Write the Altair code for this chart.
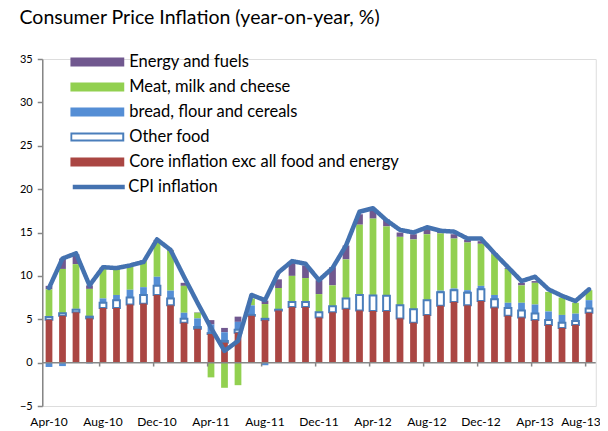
import altair as alt
import pandas as pd

months = ["Apr-10", "May-10", "Jun-10", "Jul-10", "Aug-10", "Sep-10", "Oct-10", "Nov-10",
          "Dec-10", "Jan-11", "Feb-11", "Mar-11", "Apr-11", "May-11", "Jun-11", "Jul-11",
          "Aug-11", "Sep-11", "Oct-11", "Nov-11", "Dec-11", "Jan-12", "Feb-12", "Mar-12",
          "Apr-12", "May-12", "Jun-12", "Jul-12", "Aug-12", "Sep-12", "Oct-12", "Nov-12",
          "Dec-12", "Jan-13", "Feb-13", "Mar-13", "Apr-13", "May-13", "Jun-13", "Jul-13",
          "Aug-13"]
core = [4.95, 5.4, 5.8, 5.1, 6.3, 6.3, 6.7, 6.8, 7.8, 6.6, 4.6, 3.9, 3.3, 2.3, 3.45, 5.4,
        4.9, 6.0, 6.4, 6.4, 5.2, 5.8, 6.2, 6.0, 5.95, 5.95, 5.1, 4.6, 5.5, 6.55, 7.0, 6.6,
        7.1, 6.35, 5.4, 5.2, 4.9, 4.35, 4.0, 4.35, 5.75]
other_food = [0.3, 0.3, 0.3, 0.2, 0.6, 0.9, 0.8, 1.0, 1.05, 0.8, 0.45, 0.2, 0.1, 0.2, 0.35, 0.1,
              0.15, 0.1, 0.6, 0.6, 0.6, 0.7, 1.2, 1.8, 1.8, 1.75, 1.5, 1.55, 1.7, 1.55, 1.35, 1.45,
              1.35, 0.95, 0.9, 0.8, 0.75, 0.55, 0.6, 0.45, 0.5]
bread = [-0.5, -0.4, 0.1, -0.1, 0.5, 0.6, 0.9, 0.9, 1.05, 0.9, 0.7, 1.0, 1.0, 1.0, 0.9, 1.1,
         -0.3, 0.0, 0.0, 0.0, 0.0, 0.0, 0.0, 0.1, 0.05, 0.0, 0.0, 0.0, 0.0, 0.2, 0.2, 0.3,
         0.4, 0.5, 0.6, 0.9, 1.05, 1.0, 0.9, 0.85, 0.95]
meat = [3.2, 5.1, 5.15, 3.2, 3.4, 3.0, 2.7, 3.0, 4.1, 4.6, 3.1, 0.65, -1.7, -2.9, -2.6, 0.8,
        1.7, 2.5, 3.0, 2.75, 2.1, 2.4, 4.5, 8.0, 8.8, 8.0, 7.9, 8.05, 7.6, 6.6, 5.75, 5.5,
        4.85, 4.7, 3.9, 2.0, 2.5, 2.25, 2.0, 1.25, 1.15]
energy = [0.4, 1.2, 1.15, 0.4, 0.15, 0.1, 0.1, 0.1, 0.15, 0.1, 0.35, 0.05, 0.5, 0.5, 0.6, 0.0,
          0.4, 1.0, 1.5, 1.45, 1.6, 2.1, 1.6, 1.2, 1.0, 0.8, 0.5, 0.6, 0.6, 0.2, 0.5, 0.3,
          0.3, 0.1, 0.1, 0.3, 0.2, 0.0, 0.0, 0.0, 0.0]
cpi = [8.6, 12.0, 12.6, 8.9, 11.0, 10.9, 11.2, 11.6, 14.2, 13.0, 9.9, 6.9, 4.0, 1.35, 2.5, 7.8,
       7.2, 10.4, 11.7, 11.4, 9.5, 10.9, 13.5, 17.4, 17.8, 16.4, 15.3, 15.0, 15.6, 15.2, 15.1, 14.3,
       14.3, 12.6, 11.0, 9.4, 9.9, 8.45, 7.7, 7.1, 8.45]
tick_labels = ["Apr-10", "Aug-10", "Dec-10", "Apr-11", "Aug-11", "Dec-11", "Apr-12",
               "Aug-12", "Dec-12", "Apr-13", "Aug-13"]
y_ticks = [-5, 0, 5, 10, 15, 20, 25, 30, 35]

series_names = ["Energy and fuels", "Meat, milk and cheese", "bread, flour and cereals",
                "Other food", "Core inflation exc all food and energy"]
fill_colors = ["#71588F", "#92D050", "#558ED5", "#FFFFFF", "#AA4643"]
stroke_colors = ["#71588F", "#92D050", "#558ED5", "#4A7EBB", "#AA4643"]
line_name = "CPI inflation"
line_color = "#4472B0"

series_values = [energy, meat, bread, other_food, core]
stack_rank = [4, 3, 2, 1, 0]

rows = []
for name, vals, rank in zip(series_names, series_values, stack_rank):
    for m, v in zip(months, vals):
        rows.append({"month": m, "series": name, "value": v, "rank": rank})
bars_df = pd.DataFrame(rows)
cpi_df = pd.DataFrame({"month": months, "cpi": cpi, "series": [line_name] * len(months)})
ticks_df = pd.DataFrame({"month": tick_labels[1:]})

FONT = "Lato"
LEG_FS = 16.5

x_scale = alt.Scale(paddingInner=0.5, paddingOuter=0.25)
y_scale = alt.Scale(domain=[-5, 35], nice=False)

x_enc = alt.X("month:N", sort=months, scale=x_scale, title=None,
              axis=alt.Axis(values=tick_labels, domain=False, ticks=False, labelAngle=0,
                            labelFont=FONT, labelFontSize=12, labelColor="#000000",
                            labelPadding=10,
                            labelOffset=alt.condition("datum.value == 'Aug-13'",
                                                      alt.value(-8), alt.value(0))))

bar_legend = alt.Legend(orient="none", legendX=28, legendY=-6, title=None,
                        symbolType="M-1,-0.135L1,-0.135L1,0.135L-1,0.135Z",
                        symbolSize=2704, symbolStrokeWidth=2, clipHeight=18,
                        rowPadding=7, labelOffset=5, labelFont=FONT, labelFontSize=LEG_FS,
                        labelColor="#000000", padding=0, labelLimit=400)

bars = alt.Chart(bars_df).mark_bar(strokeWidth=0).encode(
    x=x_enc,
    y=alt.Y("value:Q", stack="zero", scale=y_scale, title=None,
            axis=alt.Axis(values=y_ticks, grid=False, domainColor="#868686", domainWidth=1.5,
                          tickColor="#868686", tickSize=5, tickWidth=1.5,
                          labelFont=FONT, labelFontSize=11, labelColor="#000000",
                          labelPadding=5)),
    fill=alt.Fill("series:N", scale=alt.Scale(domain=series_names, range=fill_colors),
                  legend=bar_legend),
    stroke=alt.Stroke("series:N", scale=alt.Scale(domain=series_names, range=stroke_colors),
                      legend=bar_legend),
    strokeWidth=alt.condition("datum.series == 'Other food'", alt.value(2), alt.value(0)),
    order=alt.Order("rank:Q", sort="ascending"),
)

zero_line = alt.Chart(pd.DataFrame({"z": [0]})).mark_rule(
    color="#868686", strokeWidth=1.5).encode(y=alt.Y("z:Q", scale=y_scale))

tick_marks = alt.Chart(ticks_df).mark_rule(color="#868686", strokeWidth=1.5).encode(
    x=alt.X("month:N", sort=months, scale=x_scale, bandPosition=0),
    y=alt.datum(0),
    y2=alt.datum(-0.45),
)

line = alt.Chart(cpi_df).mark_line(color=line_color, strokeWidth=4.5, strokeJoin="round",
                                   strokeCap="round").encode(
    x=alt.X("month:N", sort=months, scale=x_scale),
    y=alt.Y("cpi:Q", scale=y_scale),
    strokeDash=alt.StrokeDash("series:N", scale=alt.Scale(domain=[line_name], range=[[1, 0]]),
                              legend=alt.Legend(orient="none", legendX=28, legendY=119,
                                                title=None, symbolType="stroke",
                                                symbolSize=2704, symbolStrokeWidth=4.5,
                                                symbolStrokeColor=line_color, clipHeight=18,
                                                labelOffset=1, labelFont=FONT,
                                                labelFontSize=LEG_FS, labelColor="#000000",
                                                padding=0)),
)

chart = alt.layer(bars, zero_line, tick_marks, line).properties(
    width=553.5, height=347,
    title=alt.TitleParams("Consumer Price Inflation (year-on-year, %)", anchor="start",
                          font=FONT, fontSize=19.5, fontWeight="normal", color="#000000",
                          dx=0, offset=25),
    autosize=alt.AutoSizeParams(type="none"),
    padding={"left": 34.25, "top": 51, "right": 4.25, "bottom": 24},
).configure_view(stroke=None).configure(background="white")

chart.save("out.html", embed_options={"renderer": "svg", "actions": False})
